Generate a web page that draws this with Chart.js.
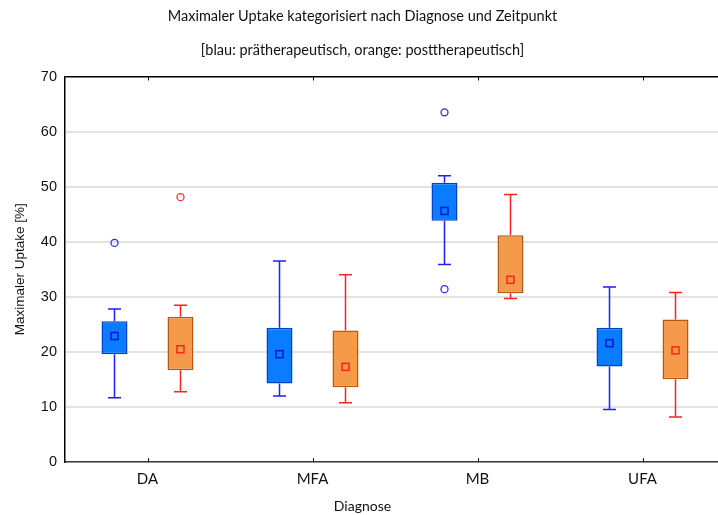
<!DOCTYPE html>
<html>
<head>
<meta charset="utf-8">
<script src="https://cdn.jsdelivr.net/npm/chart.js@4"></script>
<style>
html,body{margin:0;padding:0;background:#fff;overflow:hidden;}
canvas{display:block;}
</style>
</head>
<body>
<canvas id="c" width="732" height="515"></canvas>
<script>
// ---- data ----
const categories = ['DA', 'MFA', 'MB', 'UFA'];
const yTicks = [0, 10, 20, 30, 40, 50, 60, 70];

// prätherapeutisch (blau)
const preQ1   = [19.6, 14.3, 43.8, 17.35];
const preQ3   = [25.6, 24.4, 50.7, 24.4];
const preMin  = [11.7, 12.0, 35.9, 9.55];
const preMax  = [27.8, 36.5, 52.0, 31.8];
const preMean = [22.9, 19.6, 45.6, 21.6];
const preOutliers = [[39.8], [], [63.5, 31.4], []];

// posttherapeutisch (orange)
const postQ1   = [16.7, 13.6, 30.65, 15.05];
const postQ3   = [26.4, 23.9, 41.2, 25.9];
const postMin  = [12.8, 10.8, 29.7, 8.2];
const postMax  = [28.5, 34.0, 48.6, 30.8];
const postMean = [20.5, 17.3, 33.1, 20.3];
const postOutliers = [[48.1], [], [], []];

const series = [
  {q1: preQ1, q3: preQ3, min: preMin, max: preMax, mean: preMean, out: preOutliers,
   fill: '#0a7cff', border: '#0044c4', whisker: '#1e1eff', meanColor: '#0018d8', outColor: '#2a2aff'},
  {q1: postQ1, q3: postQ3, min: postMin, max: postMax, mean: postMean, out: postOutliers,
   fill: '#f5994a', border: '#b65a12', whisker: '#ff2222', meanColor: '#ff2418', outColor: '#ff3030'}
];

const boxExtras = {
  id: 'boxExtras',
  afterDatasetsDraw(chart) {
    const ctx = chart.ctx;
    const ys = chart.scales.y;
    series.forEach((s, di) => {
      const meta = chart.getDatasetMeta(di);
      meta.data.forEach((bar, i) => {
        const x = bar.x;
        ctx.save();
        ctx.strokeStyle = s.whisker;
        ctx.lineWidth = 1.5;
        const yQ3 = ys.getPixelForValue(s.q3[i]);
        const yMax = ys.getPixelForValue(s.max[i]);
        const yQ1 = ys.getPixelForValue(s.q1[i]);
        const yMin = ys.getPixelForValue(s.min[i]);
        ctx.beginPath();
        ctx.moveTo(x, yQ3); ctx.lineTo(x, yMax);
        ctx.moveTo(x - 6.5, yMax); ctx.lineTo(x + 6.5, yMax);
        ctx.moveTo(x, yQ1); ctx.lineTo(x, yMin);
        ctx.moveTo(x - 6.5, yMin); ctx.lineTo(x + 6.5, yMin);
        ctx.stroke();
        // mean marker
        const ym = ys.getPixelForValue(s.mean[i]);
        ctx.strokeStyle = s.meanColor;
        ctx.lineWidth = 1.5;
        ctx.strokeRect(x - 3.5, ym - 3.5, 7, 7);
        // outliers
        ctx.strokeStyle = s.outColor;
        ctx.lineWidth = 1.3;
        s.out[i].forEach(v => {
          ctx.beginPath();
          ctx.arc(x, ys.getPixelForValue(v), 3.5, 0, Math.PI * 2);
          ctx.stroke();
        });
        ctx.restore();
      });
    });
    // inside tick marks on x axis (bottom and top)
    const xs = chart.scales.x;
    const area = chart.chartArea;
    ctx.save();
    ctx.strokeStyle = '#000';
    ctx.lineWidth = 1;
    xs.ticks.forEach((t, i) => {
      const px = Math.round(xs.getPixelForTick(i)) + 0.5;
      ctx.beginPath();
      ctx.moveTo(px, area.bottom); ctx.lineTo(px, area.bottom - 4);
      ctx.moveTo(px, area.top); ctx.lineTo(px, area.top + 4);
      ctx.stroke();
    });
    ctx.restore();
  }
};

new Chart(document.getElementById('c'), {
  type: 'bar',
  data: {
    labels: categories,
    datasets: series.map((s, di) => ({
      label: di === 0 ? 'prätherapeutisch' : 'posttherapeutisch',
      data: s.q1.map((v, i) => [v, s.q3[i]]),
      backgroundColor: s.fill,
      borderColor: s.border,
      borderWidth: 1.5,
      borderSkipped: false,
      categoryPercentage: 0.8,
      barPercentage: 0.394
    }))
  },
  options: {
    responsive: false,
    animation: false,
    layout: {padding: {left: 0, right: 7, top: 0, bottom: 0}},
    plugins: {
      legend: {display: false},
      tooltip: {enabled: false},
      title: {
        display: true,
        text: ['Maximaler Uptake kategorisiert nach Diagnose und Zeitpunkt',
               '[blau: prätherapeutisch, orange: posttherapeutisch]'],
        font: {family: 'Lato', size: 14.5, weight: 'normal', lineHeight: 34 / 14.5},
        color: '#111',
        padding: {top: -1, bottom: 9.5}
      },
      subtitle: {
        display: true,
        position: 'bottom',
        text: 'Diagnose',
        font: {family: 'Lato', size: 14, weight: 'normal', lineHeight: 1.2},
        color: '#111',
        padding: {top: 0, bottom: 0}
      }
    },
    scales: {
      x: {
        offset: true,
        grid: {display: false, drawTicks: false, tickLength: 0},
        border: {display: true, color: '#3a3a3a', width: 1.5},
        ticks: {font: {family: 'Lato', size: 15}, color: '#111', padding: 8},
        afterFit: s => { s.height = 36; }
      },
      y: {
        min: 0, max: 70,
        afterBuildTicks: s => { s.ticks = yTicks.map(v => ({value: v})); },
        grid: {
          drawTicks: false,
          color: c => (c.tick && c.tick.value === 70) ? '#000' : '#e3e3e3',
          lineWidth: c => (c.tick && c.tick.value === 70) ? 1.5 : 2
        },
        border: {display: true, color: '#000', width: 1.5},
        ticks: {font: {family: 'Liberation Sans', size: 14.5}, color: '#111', padding: 8},
        title: {
          display: true,
          text: 'Maximaler Uptake [%]',
          font: {family: 'Liberation Sans', size: 13.5},
          color: '#111',
          padding: {top: 12, bottom: 0}
        },
        afterFit: s => { s.width = 65; }
      }
    }
  },
  plugins: [boxExtras]
});
</script>
</body>
</html>
